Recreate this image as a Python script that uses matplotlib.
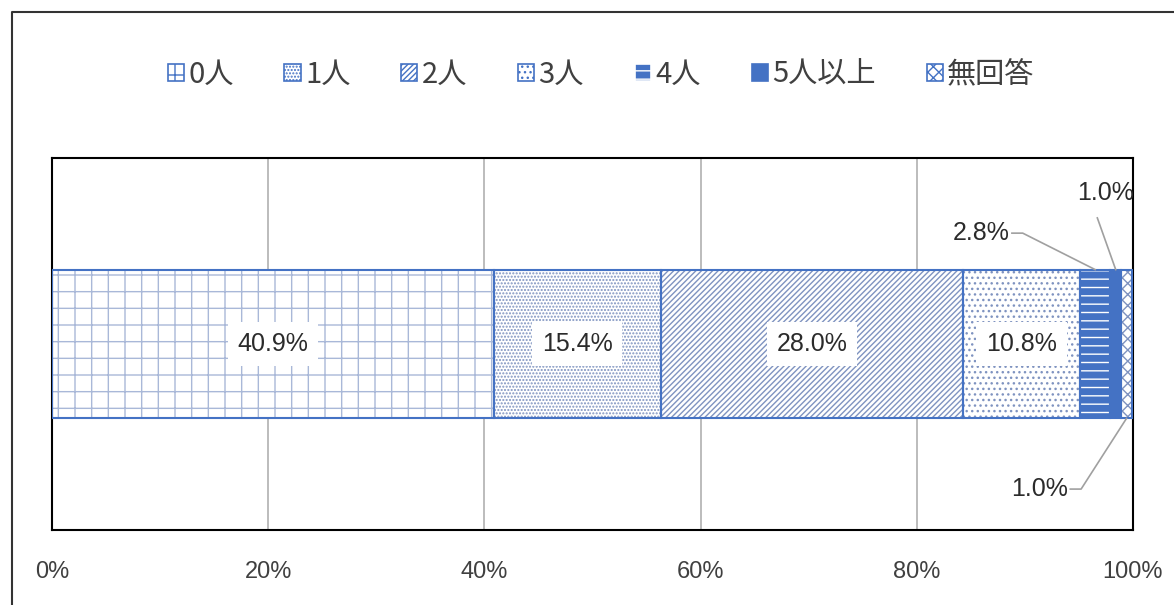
import matplotlib.pyplot as plt
from matplotlib.patches import Patch
from matplotlib.lines import Line2D

plt.rcParams['font.family'] = ['Noto Sans CJK JP', 'DejaVu Sans']
plt.rcParams['hatch.linewidth'] = 1.0

categories = ['0人', '1人', '2人', '3人', '4人', '5人以上', '無回答']
values = [40.9, 15.4, 28.0, 10.8, 2.8, 1.0, 1.0]
ticks = [0, 20, 40, 60, 80, 100]
tick_labels = ['0%', '20%', '40%', '60%', '80%', '100%']

blue = '#4472C4'
hatches = ['+', '.....', '//////', '...', '--', '', 'xxx']
faces = ['white', 'white', 'white', 'white', blue, blue, 'white']
hatch_colors = ['#a9b8d8', '#7f93c0', '#7f93c0', '#7f93c0', 'white', blue, '#7f93c0']

num_font = ['Liberation Sans', 'DejaVu Sans']
txt_color = '#2b2b2b'
line_color = '#a0a0a0'

fig = plt.figure(figsize=(11.74, 6.05), dpi=100)
ax = fig.add_axes([52/1174, 1-530/605, (1133-52)/1174, (530-158)/605])

left = 0
for i in range(len(values)):
    ax.barh(0, values[i], left=left, height=0.4, color=faces[i],
            hatch=hatches[i], edgecolor=hatch_colors[i], linewidth=0, zorder=2)
    ax.barh(0, values[i], left=left, height=0.4, fill=False,
            edgecolor=blue, linewidth=1.5, zorder=3)
    left += values[i]

# labels inside the big segments
left = 0
for i in range(4):
    ax.text(left + values[i]/2, 0, f'{values[i]:.1f}%', ha='center', va='center',
            fontsize=18, family=num_font, color=txt_color, zorder=4,
            bbox=dict(facecolor='white', edgecolor='none', pad=7))
    left += values[i]

# small segments with leader lines
c4 = sum(values[:4]) + values[4]/2
c5 = sum(values[:5]) + values[5]/2
c6 = sum(values[:6]) + values[6]/2
lab = dict(fontsize=18, family=num_font, color=txt_color)

ax.text(88.6, 0.298, f'{values[4]:.1f}%', ha='right', va='center', **lab)
ax.plot([88.8, 89.8, c4], [0.298, 0.298, 0.2], color=line_color, lw=1.2, zorder=5)

ax.text(97.5, 0.406, f'{values[5]:.1f}%', ha='center', va='center', **lab)
ax.plot([96.7, c5], [0.339, 0.2], color=line_color, lw=1.2, zorder=5)

ax.text(94.0, -0.39, f'{values[6]:.1f}%', ha='right', va='center', **lab)
ax.plot([94.2, 95.2, c6], [-0.39, -0.39, -0.2], color=line_color, lw=1.2, zorder=5)

ax.set_xlim(0, 100)
ax.set_ylim(-0.5, 0.5)
ax.set_yticks([])
ax.set_xticks(ticks)
ax.set_xticklabels(tick_labels, family=num_font, fontsize=17, color='#404040')
ax.tick_params(axis='x', length=0, pad=22)
ax.grid(axis='x', color='#b0b0b0', linewidth=1.2, zorder=0)
ax.set_axisbelow(True)
for s in ax.spines.values():
    s.set_color('black')
    s.set_linewidth(1.5)

handles = [Patch(facecolor=faces[i], hatch=hatches[i], edgecolor=blue if i != 4 else 'white',
                 linewidth=1.2) for i in range(len(categories))]
leg = fig.legend(handles, categories, loc='center', bbox_to_anchor=(0.512, 1-75/605), ncol=7,
                 frameon=False, fontsize=21, handlelength=0.55, handleheight=0.55,
                 handletextpad=0.15, columnspacing=1.75)
for t in leg.get_texts():
    t.set_color('#404040')

# outer frame
fig.add_artist(Line2D([12/1174, 12/1174, 1], [0, 1-12/605, 1-12/605],
                      transform=fig.transFigure, color='#333333', lw=1.5))

fig.savefig('out.png', dpi=100)
